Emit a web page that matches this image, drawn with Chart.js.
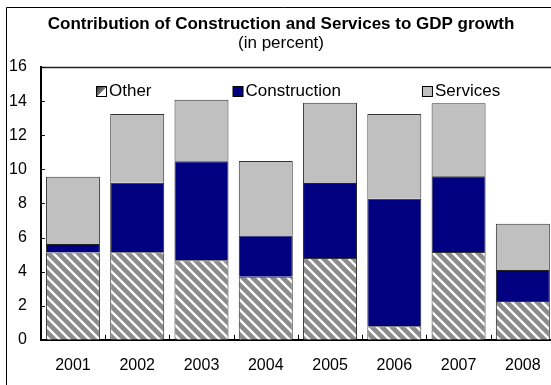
<!DOCTYPE html>
<html>
<head>
<meta charset="utf-8">
<script src="https://cdn.jsdelivr.net/npm/chart.js@4.4.1/dist/chart.umd.min.js"></script>
<style>
  html, body { margin: 0; padding: 0; background: #fff; }
  #wrap { width: 551px; height: 385px; overflow: hidden; position: relative; }
  #wrap canvas { position: absolute; left: 0; top: 0; }
</style>
</head>
<body>
<div id="wrap"><canvas id="gdpChart" width="562" height="395"></canvas></div>
<script>
// Contributions to GDP growth, percentage points
const years = ['2001', '2002', '2003', '2004', '2005', '2006', '2007', '2008'];
const other = [5.12, 5.14, 4.66, 3.70, 4.80, 0.80, 5.15, 2.27];
const construction = [0.50, 4.07, 5.81, 2.42, 4.39, 7.47, 4.44, 1.82];
const services = [3.94, 4.03, 3.61, 4.37, 4.71, 4.97, 4.29, 2.71];
const yMin = 0, yMax = 16, yStep = 2;

const FONT = '"Liberation Sans", Arial, sans-serif';
const canvas = document.getElementById('gdpChart');
const ctx = canvas.getContext('2d');

// grey fill with white diagonal stripes for "Other"
function makeHatch() {
  const tile = document.createElement('canvas');
  tile.width = 10; tile.height = 10;
  const g = tile.getContext('2d');
  g.fillStyle = '#8c8c8c';
  g.fillRect(0, 0, 10, 10);
  g.strokeStyle = '#ffffff';
  g.lineWidth = 2.4;
  g.beginPath();
  g.moveTo(-5, -5); g.lineTo(15, 15);
  g.moveTo(-5, 5); g.lineTo(5, 15);
  g.moveTo(5, -5); g.lineTo(15, 5);
  g.stroke();
  return ctx.createPattern(tile, 'repeat');
}
const hatch = makeHatch();

function otherSwatch(c, x, y, s) {
  const grad = c.createLinearGradient(x, y, x + s, y + s);
  grad.addColorStop(0, '#333');
  grad.addColorStop(0.5, '#777');
  grad.addColorStop(0.55, '#fff');
  grad.addColorStop(1, '#fff');
  return grad;
}

// outer frame, plot box top line, inner tick marks and the legend inside the plot
const chartDecor = {
  id: 'chartDecor',
  afterLayout(chart) {
    // centre the two title lines on the outer frame rather than the padded box
    chart.boxes.forEach(b => {
      if (b.options && typeof b.options.text === 'string') {
        b.left += 6;
        b.right += 6;
      }
    });
  },
  beforeDraw(chart) {
    const c = chart.ctx;
    c.save();
    c.fillStyle = '#fff';
    c.fillRect(0, 0, chart.width, chart.height);
    c.strokeStyle = '#000';
    c.lineWidth = 1;
    c.beginPath();
    c.moveTo(6.5, chart.height);
    c.lineTo(6.5, 7.5);
    c.lineTo(chart.width, 7.5);
    c.stroke();
    c.restore();
  },
  afterDraw(chart) {
    const c = chart.ctx;
    const a = chart.chartArea;
    const x = chart.scales.x, y = chart.scales.y;
    c.save();
    c.strokeStyle = '#222';
    c.lineWidth = 1.5;
    c.beginPath();
    c.moveTo(a.left, a.top + 0.5);
    c.lineTo(a.right, a.top + 0.5);
    c.stroke();

    c.strokeStyle = '#000';
    c.lineWidth = 1;
    c.beginPath();
    y.ticks.forEach(t => {
      const py = Math.round(y.getPixelForValue(t.value)) + 0.5;
      c.moveTo(a.left, py);
      c.lineTo(a.left + 4, py);
    });
    for (let i = 1; i < years.length; i++) {
      const px = Math.round((x.getPixelForValue(i - 1) + x.getPixelForValue(i)) / 2) + 0.5;
      c.moveTo(px, a.bottom);
      c.lineTo(px, a.bottom - 5);
    }
    c.stroke();

    c.font = '17px ' + FONT;
    c.textBaseline = 'middle';
    c.fillStyle = '#000';
    const box = 10, gapText = 3, gap = 81;
    const items = chart.data.datasets.map(ds => ({ ds, w: c.measureText(ds.label).width }));
    const total = items.reduce((s, it) => s + box + gapText + it.w, 0) + gap * (items.length - 1);
    let lx = Math.round((a.left + a.right) / 2 - total / 2);
    const ly = a.top + 24;
    items.forEach(it => {
      const bx = lx + 0.5, by = Math.round(ly - box / 2) + 0.5;
      c.fillStyle = it.ds.backgroundColor === hatch ? otherSwatch(c, bx, by, box) : it.ds.backgroundColor;
      c.fillRect(bx, by, box, box);
      c.strokeStyle = '#000';
      c.strokeRect(bx, by, box, box);
      c.fillStyle = '#000';
      c.fillText(it.ds.label, lx + box + gapText, ly);
      lx += box + gapText + it.w + gap;
    });
    c.restore();
  }
};

new Chart(ctx, {
  type: 'bar',
  data: {
    labels: years,
    datasets: [
      {
        label: 'Other',
        data: other,
        backgroundColor: hatch,
        borderColor: '#333',
        borderWidth: 1
      },
      {
        label: 'Construction',
        data: construction,
        backgroundColor: '#000080',
        borderColor: '#222',
        borderWidth: 1
      },
      {
        label: 'Services',
        data: services,
        backgroundColor: '#c0c0c0',
        borderColor: '#333',
        borderWidth: 1
      }
    ]
  },
  options: {
    responsive: false,
    animation: false,
    devicePixelRatio: 1,
    layout: { padding: { left: -5, right: 7, top: 0, bottom: 4 } },
    datasets: { bar: { categoryPercentage: 1, barPercentage: 0.84 } },
    plugins: {
      legend: { display: false },
      tooltip: { enabled: false },
      title: {
        display: true,
        text: 'Contribution of Construction and Services to GDP growth',
        color: '#000',
        font: { family: FONT, size: 17, weight: 'bold' },
        padding: { top: 14, bottom: -1.5 }
      },
      subtitle: {
        display: true,
        text: '(in percent)',
        color: '#000',
        font: { family: FONT, size: 17 },
        padding: { top: 0, bottom: 13.7 }
      }
    },
    scales: {
      x: {
        stacked: true,
        grid: { display: false, drawTicks: false },
        border: { display: true, color: '#000', width: 2 },
        ticks: { color: '#000', font: { family: FONT, size: 16 }, padding: 16 }
      },
      y: {
        stacked: true,
        min: yMin,
        max: yMax,
        grid: { display: false, drawTicks: false },
        border: { display: true, color: '#000', width: 2 },
        ticks: { stepSize: yStep, color: '#000', font: { family: FONT, size: 16 }, padding: 14 }
      }
    }
  },
  plugins: [chartDecor]
});
</script>
</body>
</html>
